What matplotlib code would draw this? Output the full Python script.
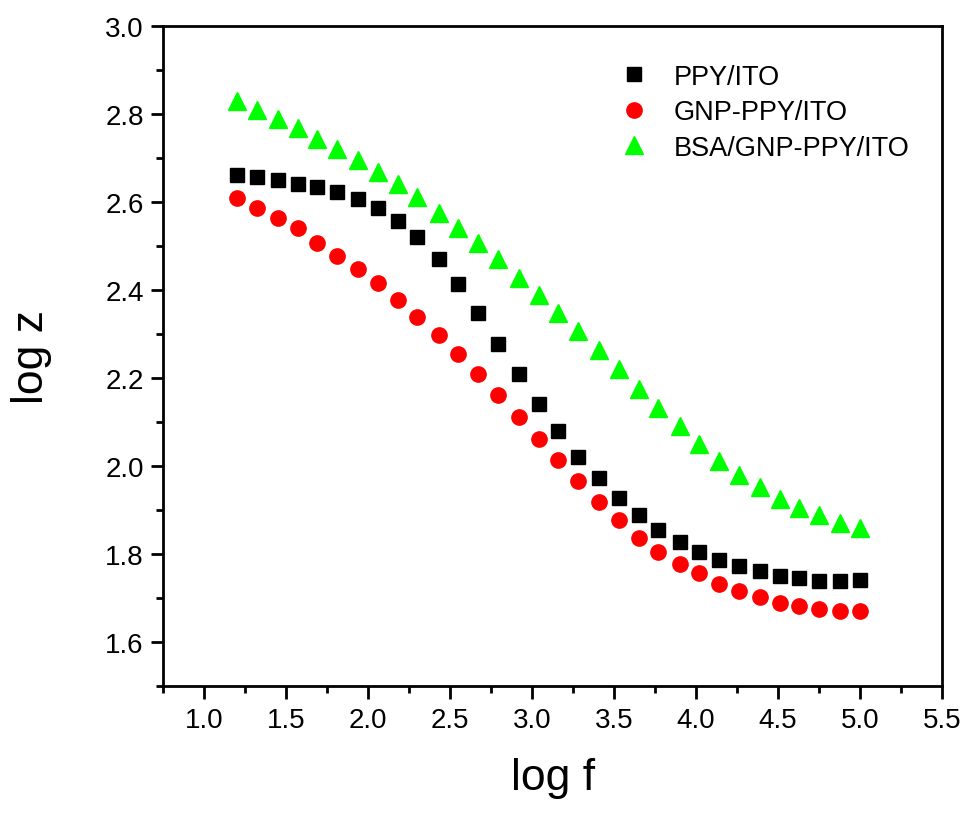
import matplotlib.pyplot as plt
from matplotlib.ticker import MultipleLocator

plt.rcParams['font.family'] = ['Liberation Sans', 'DejaVu Sans']

log_f = [1.20, 1.32, 1.45, 1.57, 1.69, 1.81, 1.94, 2.06, 2.18, 2.30, 2.43,
         2.55, 2.67, 2.79, 2.92, 3.04, 3.16, 3.28, 3.41, 3.53, 3.65, 3.77,
         3.90, 4.02, 4.14, 4.26, 4.39, 4.51, 4.63, 4.75, 4.88, 5.00]

ppy = [2.662, 2.657, 2.650, 2.642, 2.634, 2.623, 2.607, 2.586, 2.558, 2.521, 2.472,
       2.415, 2.349, 2.279, 2.209, 2.142, 2.080, 2.022, 1.973, 1.927, 1.890, 1.856,
       1.829, 1.806, 1.787, 1.773, 1.761, 1.750, 1.747, 1.740, 1.740, 1.741]

gnp_ppy = [2.610, 2.588, 2.565, 2.541, 2.507, 2.478, 2.449, 2.416, 2.379, 2.339, 2.299,
           2.256, 2.209, 2.162, 2.113, 2.063, 2.015, 1.967, 1.919, 1.877, 1.838, 1.805,
           1.777, 1.757, 1.733, 1.716, 1.702, 1.690, 1.682, 1.675, 1.671, 1.671]

bsa_gnp_ppy = [2.830, 2.811, 2.790, 2.768, 2.745, 2.722, 2.696, 2.669, 2.641, 2.613, 2.575,
               2.542, 2.508, 2.472, 2.429, 2.390, 2.349, 2.307, 2.264, 2.220, 2.176, 2.132,
               2.091, 2.051, 2.013, 1.981, 1.952, 1.926, 1.906, 1.889, 1.872, 1.860]

fig = plt.figure(figsize=(9.72, 8.29), dpi=100)
ax = fig.add_axes([0.168, 0.171, 0.801, 0.796])

ax.plot(log_f, ppy, 's', color='black', markersize=9.5, label='PPY/ITO')
ax.plot(log_f, gnp_ppy, 'o', color='#ff0000', markersize=11, label='GNP-PPY/ITO')
ax.plot(log_f, bsa_gnp_ppy, '^', color='#00ff00', markersize=12.5, label='BSA/GNP-PPY/ITO')

ax.set_xlim(0.75, 5.5)
ax.set_ylim(1.5, 3.0)
ax.xaxis.set_major_locator(MultipleLocator(0.5))
ax.xaxis.set_minor_locator(MultipleLocator(0.25))
ax.yaxis.set_major_locator(MultipleLocator(0.2))
ax.yaxis.set_minor_locator(MultipleLocator(0.1))

for s in ax.spines.values():
    s.set_linewidth(2)
ax.tick_params(which='major', direction='out', length=9, width=2)
ax.tick_params(which='minor', direction='out', length=5, width=2)
ax.tick_params(axis='x', labelsize=20, pad=6)
ax.tick_params(axis='y', labelsize=20, pad=5)

ax.set_xlabel('log f', fontsize=32, labelpad=17)
ax.set_ylabel('log z', fontsize=32, labelpad=38)

ax.legend(loc='upper left', bbox_to_anchor=(0.575, 0.96), frameon=False,
          fontsize=19.5, handlelength=0.9, handletextpad=1.0, labelspacing=0.35,
          borderaxespad=0)

fig.savefig('out.png', dpi=100)
